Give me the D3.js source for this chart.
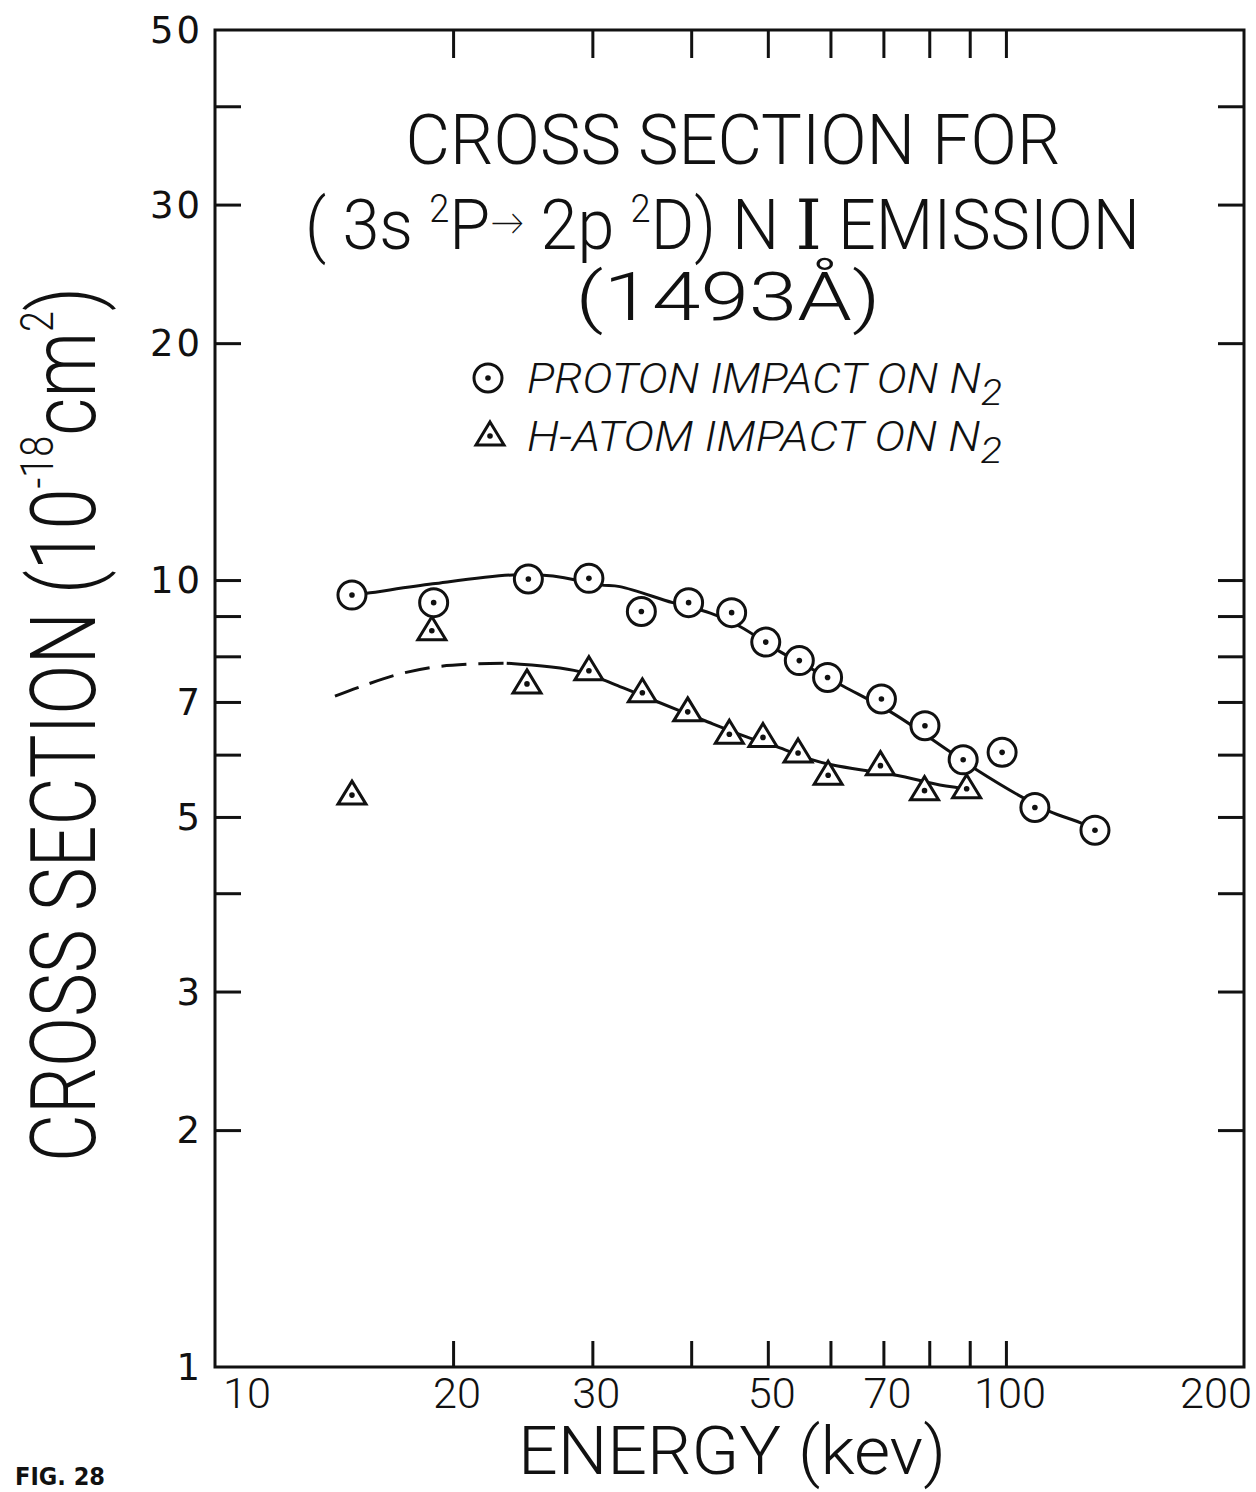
<!DOCTYPE html>
<html>
<head>
<meta charset="utf-8">
<script src="https://cdn.jsdelivr.net/npm/d3@7"></script>
<style>
  html, body { margin: 0; padding: 0; background: #fff; }
  svg { display: block; }
  .ttl { font-family: Roboto, Lato, "DejaVu Sans", sans-serif; font-weight: 300; fill: #111; }
</style>
</head>
<body>
<svg id="chart" width="1256" height="1492"></svg>
<script>
// ---------------- DATA ----------------
const xTicks = [20, 30, 40, 50, 60, 70, 80, 90, 100];
const xTickLabels = [10, 20, 30, 50, 70, 100, 200];
const yTicks = [2, 3, 4, 5, 6, 7, 8, 9, 10, 20, 30, 40];
const yTickLabels = [1, 2, 3, 5, 7, 10, 20, 30, 50];

// proton impact on N2 (circles)
const protonE     = [14.9, 18.9, 24.9, 29.7, 34.6, 39.7, 45.0, 49.7, 54.8, 59.5, 69.6, 79.0, 88.3, 98.9, 108.8, 129.6];
const protonSigma = [9.57, 9.36, 10.03, 10.05, 9.12, 9.36, 9.09, 8.34, 7.90, 7.52, 7.06, 6.53, 5.91, 6.04, 5.14, 4.81];

// H-atom impact on N2 (triangles)
const hE     = [14.9, 18.8, 24.8, 29.7, 34.7, 39.6, 44.7, 49.3, 54.6, 59.6, 69.4, 78.9, 89.2];
const hSigma = [5.33, 8.62, 7.38, 7.67, 7.19, 6.80, 6.37, 6.31, 6.03, 5.65, 5.81, 5.40, 5.43];

// hand-drawn fit curves
const protonFitE     = [14.9, 15.55, 18.85, 23.8, 26.75, 30.67, 32.5, 37.9, 42.3, 46.1, 51.8, 57.1, 62.3, 72.0, 85.0, 91.8, 105.1, 113.7, 125.2, 129.6];
const protonFitSigma = [9.57, 9.62, 9.89, 10.15, 10.12, 9.86, 9.81, 9.36, 9.08, 8.73, 8.11, 7.69, 7.33, 6.77, 6.05, 5.74, 5.29, 5.08, 4.90, 4.81];

const hDashE     = [14.18, 15.33, 16.97, 18.88, 21.01, 23.38];
const hDashSigma = [7.12, 7.33, 7.58, 7.75, 7.82, 7.84];
const hFitE     = [23.38, 28.9, 32.5, 35.8, 41.4, 47.0, 51.8, 56.0, 60.4, 67.9, 72.7, 82.5, 86.6, 89.2];
const hFitSigma = [7.84, 7.65, 7.32, 7.04, 6.64, 6.32, 6.12, 5.94, 5.82, 5.71, 5.65, 5.49, 5.45, 5.43];

// ---------------- CHART ----------------
const svg = d3.select("#chart");
svg.append("rect").attr("width", 1256).attr("height", 1492).attr("fill", "#fff");

const x = d3.scaleLog().domain([10, 200]).range([215, 1244]);
const y = d3.scaleLog().domain([1, 50]).range([1367, 30]);

const X0 = x.range()[0], X1 = x.range()[1];
const Y0 = y.range()[0], Y1 = y.range()[1];
const ink = "#111";

// frame
svg.append("rect")
  .attr("x", X0).attr("y", Y1)
  .attr("width", X1 - X0).attr("height", Y0 - Y1)
  .attr("fill", "none").attr("stroke", ink).attr("stroke-width", 3);

// axes with inward ticks on all four sides
const tickLen = 26;
const bottomAxis = d3.axisTop(x).tickValues(xTicks).tickSize(tickLen).tickFormat("");
const topAxis = d3.axisBottom(x).tickValues(xTicks).tickSize(tickLen + 2).tickFormat("");
const leftAxis = d3.axisRight(y).tickValues(yTicks).tickSize(tickLen).tickFormat("");
const rightAxis = d3.axisLeft(y).tickValues(yTicks).tickSize(tickLen).tickFormat("");

function styleAxis(g) {
  g.select(".domain").remove();
  g.selectAll(".tick line").attr("stroke", ink).attr("stroke-width", 3);
}
svg.append("g").attr("transform", `translate(0,${Y0})`).call(bottomAxis).call(styleAxis);
svg.append("g").attr("transform", `translate(0,${Y1})`).call(topAxis).call(styleAxis);
svg.append("g").attr("transform", `translate(${X0},0)`).call(leftAxis).call(styleAxis);
svg.append("g").attr("transform", `translate(${X1},0)`).call(rightAxis).call(styleAxis);

// x tick labels
svg.append("g").selectAll("text").data(xTickLabels).join("text")
  .attr("class", "ttl")
  .attr("x", d => d === 10 ? x(d) + 8 : (d === 200 ? 1252 : x(d) + 4))
  .attr("y", 1408)
  .attr("text-anchor", d => d === 10 ? "start" : (d === 200 ? "end" : "middle"))
  .attr("font-size", 42)
  .attr("textLength", d => String(d).length * 24)
  .attr("lengthAdjust", "spacingAndGlyphs")
  .text(d => d);

// y tick labels
svg.append("g").selectAll("text").data(yTickLabels).join("text")
  .attr("x", 203)
  .attr("y", d => y(d) + 13)
  .attr("text-anchor", "end")
  .attr("font-family", "'DejaVu Sans', sans-serif")
  .attr("font-size", 37)
  .attr("letter-spacing", 3)
  .attr("fill", ink)
  .text(d => d);

// curves
const line = d3.line().x(d => x(d[0])).y(d => y(d[1])).curve(d3.curveCatmullRom.alpha(0.5));
svg.append("path").datum(d3.zip(protonFitE, protonFitSigma))
  .attr("d", line).attr("fill", "none").attr("stroke", ink).attr("stroke-width", 3);
svg.append("path").datum(d3.zip(hFitE, hFitSigma))
  .attr("d", line).attr("fill", "none").attr("stroke", ink).attr("stroke-width", 3);
svg.append("path").datum(d3.zip(hDashE, hDashSigma))
  .attr("d", line).attr("fill", "none").attr("stroke", ink).attr("stroke-width", 3)
  .attr("stroke-dasharray", "25 12");

// markers
const triPath = "M0,-14 L14,9 L-14,9 Z";
function circleMarker(g, cx, cy) {
  g.append("circle").attr("cx", cx).attr("cy", cy).attr("r", 14)
    .attr("fill", "#fff").attr("stroke", ink).attr("stroke-width", 3);
  g.append("circle").attr("cx", cx).attr("cy", cy).attr("r", 2.8).attr("fill", ink);
}
function triMarker(g, cx, cy) {
  g.append("path").attr("d", triPath).attr("transform", `translate(${cx},${cy})`)
    .attr("fill", "#fff").attr("stroke", ink).attr("stroke-width", 3).attr("stroke-linejoin", "miter");
  g.append("circle").attr("cx", cx).attr("cy", cy).attr("r", 2.8).attr("fill", ink);
}
const mk = svg.append("g");
d3.zip(hE, hSigma).forEach(d => triMarker(mk, x(d[0]), y(d[1])));
d3.zip(protonE, protonSigma).forEach(d => circleMarker(mk, x(d[0]), y(d[1])));

// ---------------- TITLE ----------------
svg.append("text").attr("class", "ttl")
  .attr("x", 733).attr("y", 164).attr("text-anchor", "middle")
  .attr("font-size", 70).attr("textLength", 655).attr("lengthAdjust", "spacingAndGlyphs")
  .text("CROSS  SECTION  FOR");

const t2 = svg.append("text").attr("class", "ttl")
  .attr("x", 305).attr("y", 249).attr("font-size", 70);
t2.append("tspan").text("( 3s ");
t2.append("tspan").attr("font-size", 38).attr("dy", -27).text("2");
t2.append("tspan").attr("dy", 27).text("P");
t2.append("tspan").attr("font-size", 36).attr("dy", -14).text("→");
t2.append("tspan").attr("dy", 14).text(" 2p ");
t2.append("tspan").attr("font-size", 38).attr("dy", -27).text("2");
t2.append("tspan").attr("dy", 27).text("D) N ");
t2.append("tspan").attr("font-family", "'DejaVu Serif', serif").attr("font-weight", 400).text("I");
t2.append("tspan").text(" EMISSION");
t2.attr("textLength", 835).attr("lengthAdjust", "spacingAndGlyphs");

svg.append("text").attr("class", "ttl")
  .attr("x", 728).attr("y", 320).attr("text-anchor", "middle")
  .attr("font-size", 66).attr("textLength", 305).attr("lengthAdjust", "spacingAndGlyphs")
  .text("(1493Å)");

// legend
circleMarker(svg, 488, 378);
triMarker(svg, 490, 436);
const l1 = svg.append("text").attr("class", "ttl")
  .attr("x", 527).attr("y", 393).attr("font-size", 42).attr("font-style", "italic").attr("font-weight", 400);
l1.append("tspan").text("PROTON  IMPACT  ON  N");
l1.append("tspan").attr("font-size", 36).attr("dy", 12).text("2");
l1.attr("textLength", 475).attr("lengthAdjust", "spacingAndGlyphs");

const l2 = svg.append("text").attr("class", "ttl")
  .attr("x", 527).attr("y", 451).attr("font-size", 42).attr("font-style", "italic").attr("font-weight", 400);
l2.append("tspan").text("H-ATOM  IMPACT  ON  N");
l2.append("tspan").attr("font-size", 36).attr("dy", 12).text("2");
l2.attr("textLength", 475).attr("lengthAdjust", "spacingAndGlyphs");

// ---------------- AXIS TITLES ----------------
const yl = svg.append("text").attr("class", "ttl")
  .attr("transform", "translate(95,1162) rotate(-90)")
  .attr("x", 0).attr("y", 0).attr("font-size", 90);
yl.append("tspan").text("CROSS  SECTION  (10");
yl.append("tspan").attr("font-size", 46).attr("dy", -42).text("-18");
yl.append("tspan").attr("dy", 42).text("cm");
yl.append("tspan").attr("font-size", 46).attr("dy", -42).text("2");
yl.append("tspan").attr("dy", 42).text(")");
yl.attr("textLength", 875).attr("lengthAdjust", "spacingAndGlyphs");

svg.append("text").attr("class", "ttl")
  .attr("x", 518).attr("y", 1474).attr("font-size", 66)
  .attr("textLength", 428).attr("lengthAdjust", "spacingAndGlyphs")
  .text("ENERGY  (kev)");

svg.append("text")
  .attr("x", 15).attr("y", 1485)
  .attr("font-family", "'DejaVu Sans', sans-serif").attr("font-weight", "bold")
  .attr("font-size", 24).attr("fill", ink)
  .attr("textLength", 90).attr("lengthAdjust", "spacingAndGlyphs")
  .text("FIG. 28");
</script>
</body>
</html>
